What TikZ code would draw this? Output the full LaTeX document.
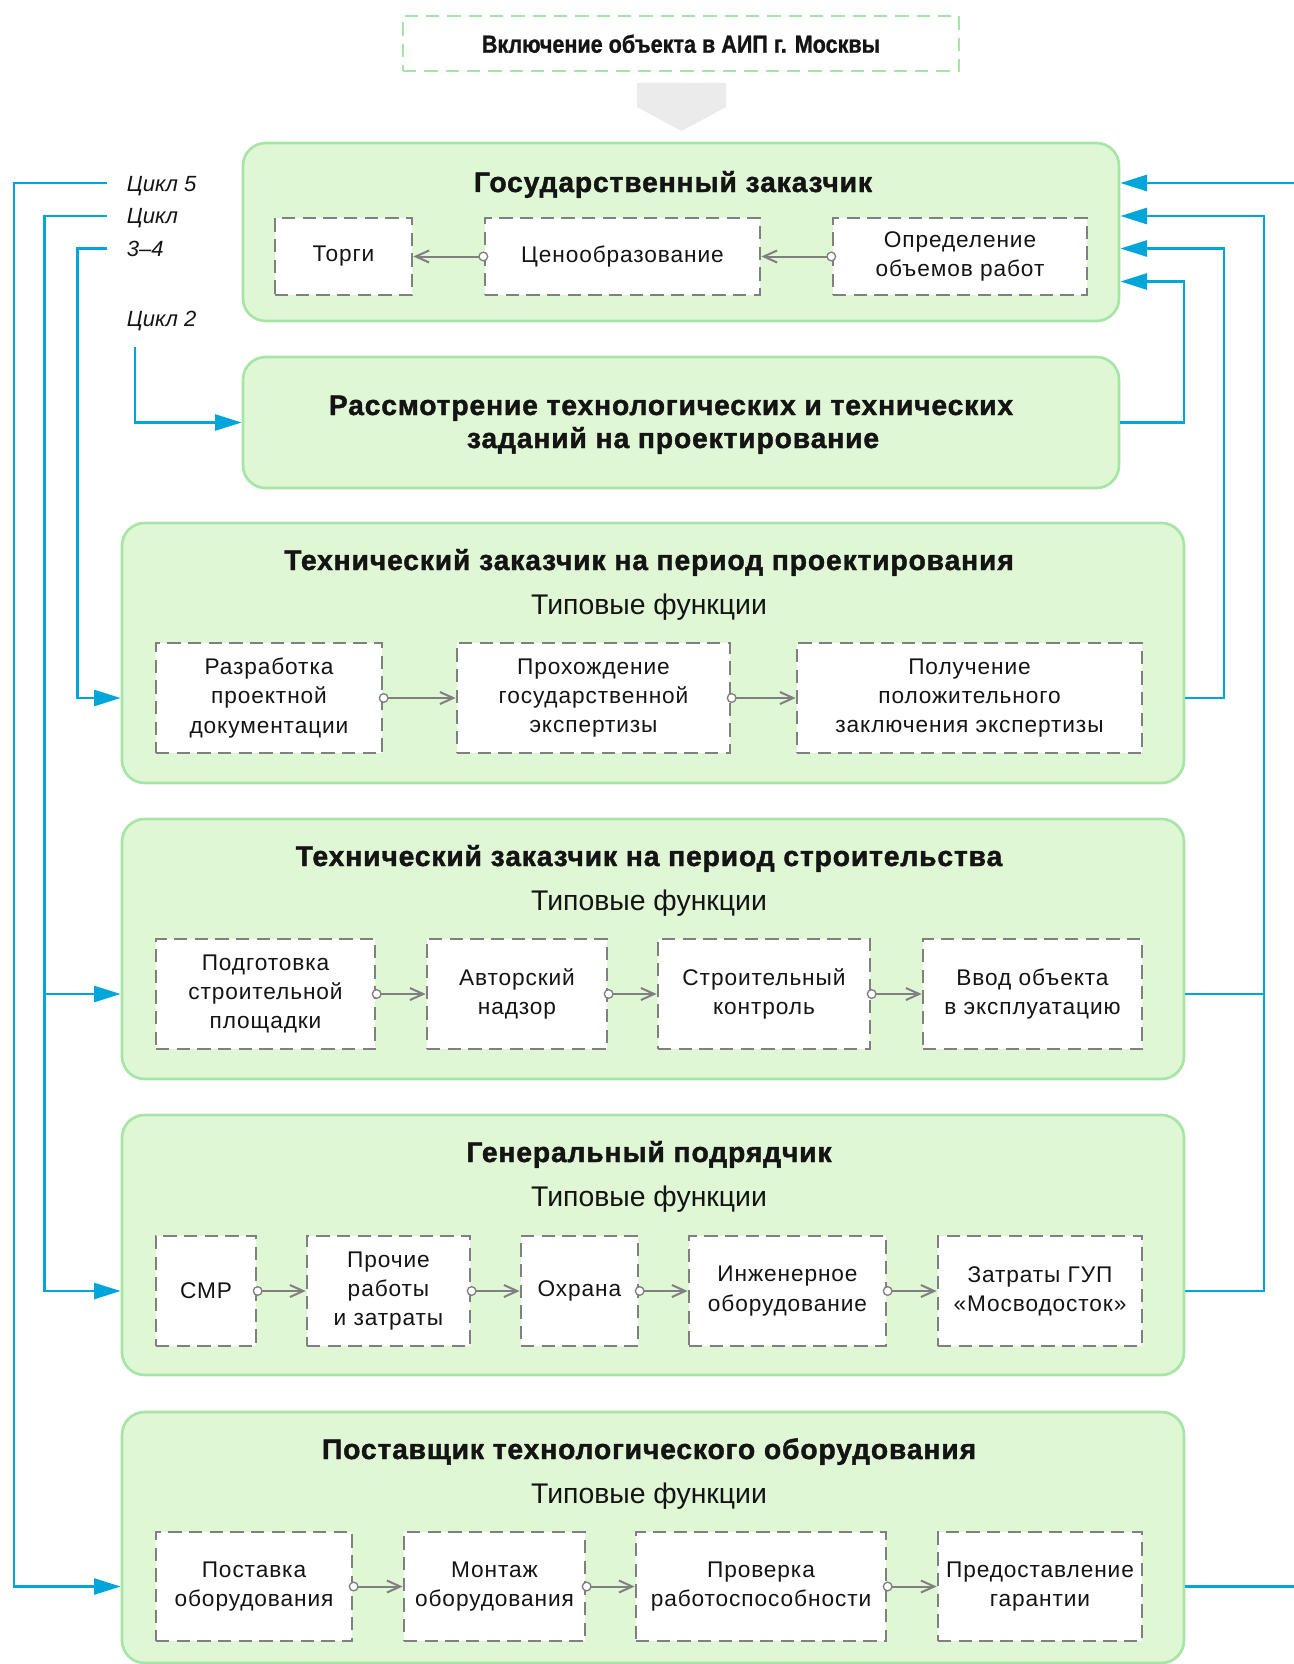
\documentclass[tikz,border=0pt]{standalone}
\usepackage{fontspec}
\setmainfont{Liberation Sans}
\newfontfamily\subfont[LetterSpace=4]{Liberation Sans}
\newfontfamily\ttlfont[LetterSpace=3, BoldFeatures={FakeBold=1.5}]{Liberation Sans}
\newfontfamily\condfont[FakeStretch=0.875, BoldFeatures={FakeBold=1}]{Liberation Sans}
\usetikzlibrary{arrows.meta,fit}
\definecolor{cyc}{RGB}{0,166,218}
\definecolor{gfill}{RGB}{224,247,214}
\definecolor{gline}{RGB}{166,229,166}
\definecolor{dgray}{RGB}{128,128,128}
\definecolor{pentc}{RGB}{235,235,235}
\definecolor{txt}{RGB}{20,20,20}
\begin{document}
\begin{tikzpicture}[x=0.75pt,y=-0.75pt,
  grp/.style={draw=gline, fill=gfill, line width=2pt, rounded corners=17pt, inner sep=0pt},
  wh/.style 2 args={minimum width=#1*0.75pt, minimum height=#2*0.75pt},
  sub/.style={draw=dgray, fill=white, line width=2pt, dash pattern=on 10pt off 5.5pt, inner sep=0pt, align=center, text=txt, font=\subfont\fontsize{17}{22}\selectfont},
  topbox/.style={draw=gline, line width=2pt, dash pattern=on 10pt off 6pt, inner sep=0pt},
  ttl/.style={text=txt, font=\ttlfont\bfseries\fontsize{21.2}{25}\selectfont, inner sep=0pt, anchor=base},
  typ/.style={text=txt, font=\fontsize{21.3}{25}\selectfont, inner sep=0pt, anchor=base},
  lbl/.style={text=txt, font=\itshape\fontsize{16.5}{20}\selectfont, inner sep=0pt, anchor=base west},
  conn/.style={dgray, line width=1.5pt, shorten <=-3.5pt, {Circle[length=7.5pt, fill=white, line width=1pt]}-{Straight Barb[length=10pt,width=9pt]}},
  bline/.style={draw=cyc, line width=2pt},
  barrow/.style={bline, -{Triangle[length=20pt,width=12pt]}}
]
\fill[white] (0,0) rectangle (1294,1664);
\useasboundingbox (0,0) rectangle (1294,1664);

% top
\node[topbox, fit={(403,16)(959,71)}] (top) {};
\node[anchor=base, text=txt, font=\condfont\bfseries\fontsize{18.5}{22}\selectfont, inner sep=0pt] (topt) at (681,52.7) {Включение объекта в АИП г. Москвы};
\fill[pentc] (637,83) -- (726,83) -- (726,107) -- (681.5,131) -- (637,107) -- cycle;

% box 1
\node[grp, fit={(243,143)(1119,321)}] (b1) {};
\node[ttl] (t1) at (673,192) {Государственный заказчик};
\node[sub, wh={137}{77}] (a1) at (343.5,256.5) {Торги};
\node[sub, wh={275}{77}] (a2) at (622.5,256.5) {Ценообразование};
\node[sub, wh={254}{77}] (a3) at (960,256.5) {Определение\\объемов работ};
\draw[conn] (a2.west) -- (a1.east);
\draw[conn] (a3.west) -- (a2.east);

% box 2
\node[grp, fit={(243,357)(1119,488)}] (b2) {};
\node[ttl] (t2a) at (671,415) {Рассмотрение технологических и технических};
\node[ttl] (t2b) at (673,448) {заданий на проектирование};

% box 3
\node[grp, fit={(122,523)(1184,783)}] (b3) {};
\node[ttl] (t3) at (649,570) {Технический заказчик на период проектирования};
\node[typ] (f3) at (649,614) {Типовые функции};
\node[sub, wh={226}{110}] (p1) at (269,698) {Разработка\\проектной\\документации};
\node[sub, wh={273}{110}] (p2) at (593.5,698) {Прохождение\\государственной\\экспертизы};
\node[sub, wh={345}{110}] (p3) at (969.5,698) {Получение\\положительного\\заключения экспертизы};
\draw[conn] (p1.east) -- (p2.west);
\draw[conn] (p2.east) -- (p3.west);

% box 4
\node[grp, fit={(122,819)(1184,1079)}] (b4) {};
\node[ttl] (t4) at (649,866) {Технический заказчик на период строительства};
\node[typ] (f4) at (649,910) {Типовые функции};
\node[sub, wh={219}{110}] (s1) at (265.5,994) {Подготовка\\строительной\\площадки};
\node[sub, wh={180}{110}] (s2) at (517,994) {Авторский\\надзор};
\node[sub, wh={212}{110}] (s3) at (764,994) {Строительный\\контроль};
\node[sub, wh={219}{110}] (s4) at (1032.5,994) {Ввод объекта\\в эксплуатацию};
\draw[conn] (s1.east) -- (s2.west);
\draw[conn] (s2.east) -- (s3.west);
\draw[conn] (s3.east) -- (s4.west);

% box 5
\node[grp, fit={(122,1115)(1184,1375)}] (b5) {};
\node[ttl] (t5) at (649,1162) {Генеральный подрядчик};
\node[typ] (f5) at (649,1206) {Типовые функции};
\node[sub, wh={100}{110}] (g1) at (206,1291) {СМР};
\node[sub, wh={163}{110}] (g2) at (388.5,1291) {Прочие\\работы\\и затраты};
\node[sub, wh={117}{110}] (g3) at (579.5,1291) {Охрана};
\node[sub, wh={197}{110}] (g4) at (787.5,1291) {Инженерное\\оборудование};
\node[sub, wh={204}{110}] (g5) at (1040,1291) {Затраты ГУП\\«Мосводосток»};
\draw[conn] (g1.east) -- (g2.west);
\draw[conn] (g2.east) -- (g3.west);
\draw[conn] (g3.east) -- (g4.west);
\draw[conn] (g4.east) -- (g5.west);

% box 6
\node[grp, fit={(122,1412)(1184,1663)}] (b6) {};
\node[ttl] (t6) at (649,1459) {Поставщик технологического оборудования};
\node[typ] (f6) at (649,1503) {Типовые функции};
\node[sub, wh={196}{109}] (e1) at (254,1586.5) {Поставка\\оборудования};
\node[sub, wh={181}{109}] (e2) at (494.5,1586.5) {Монтаж\\оборудования};
\node[sub, wh={250}{109}] (e3) at (761,1586.5) {Проверка\\работоспособности};
\node[sub, wh={204}{109}] (e4) at (1040,1586.5) {Предоставление\\гарантии};
\draw[conn] (e1.east) -- (e2.west);
\draw[conn] (e2.east) -- (e3.west);
\draw[conn] (e3.east) -- (e4.west);

% cycle labels
\node[lbl] (l5) at (126.7,191.7) {Цикл 5};
\node[lbl] (l34a) at (126.7,223.3) {Цикл};
\node[lbl] (l34b) at (126.7,256.7) {3–4};
\node[lbl] (l2) at (126.7,326) {Цикл 2};

% left blue connectors
\coordinate (c5) at (107,183);
\coordinate (c34) at (107,216);
\coordinate (c3) at (107,248.5);
\coordinate (c2) at (135,347);
\coordinate (x5) at (14,0);
\coordinate (x34) at (44.5,0);
\coordinate (x3) at (77.3,0);
\draw[barrow] (c5) -| (x5 |- e1) -- (b6.west |- e1);
\draw[barrow] (c34) -| (x34 |- g1) -- (b5.west |- g1);
\draw[barrow] (x34 |- s1) -- (b4.west |- s1);
\draw[barrow] (c3) -| (x3 |- p1) -- (b3.west |- p1);
\draw[barrow] (c2) |- (b2.west);

% right blue connectors
\coordinate (y1) at (1184,281.5);
\coordinate (y2) at (1224,248.5);
\coordinate (y3) at (1264,216);
\coordinate (y4) at (1330,183);
\draw[barrow] (b2.east) -| (y1) -- (b1.east |- y1);
\draw[barrow] (b3.east |- p3) -| (y2) -- (b1.east |- y2);
\draw[barrow] (b4.east |- s4) -| (y3) -- (b1.east |- y3);
\draw[bline] (b5.east |- g5) -| (y3);
\draw[barrow] (b6.east |- e4) -| (y4) -- (b1.east |- y4);
\end{tikzpicture}
\end{document}
